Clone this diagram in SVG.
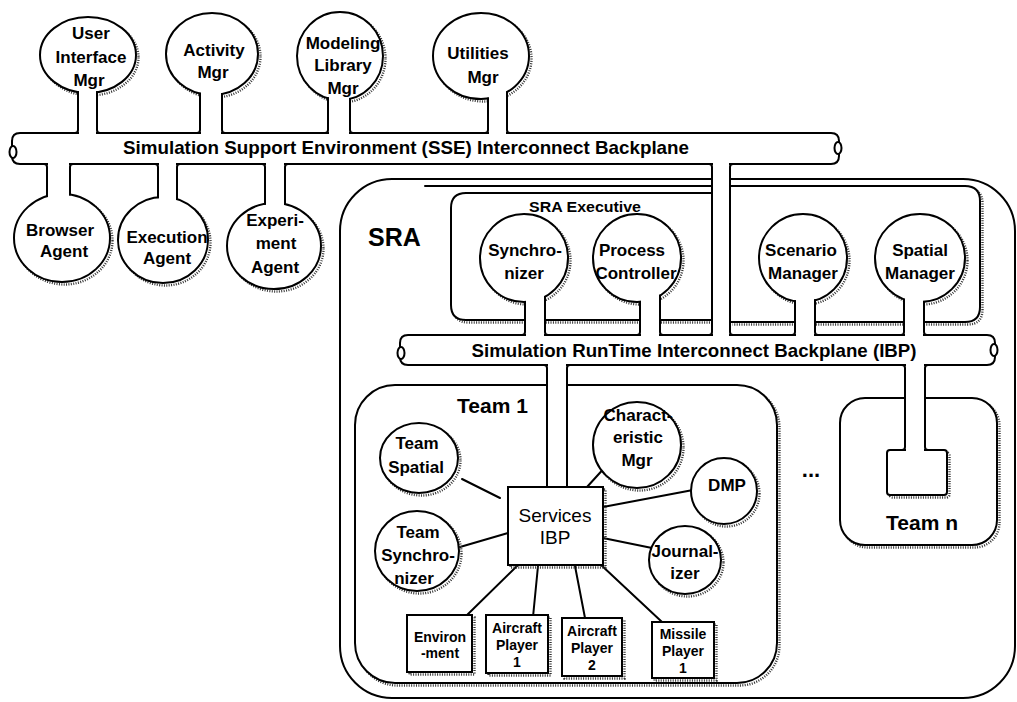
<svg xmlns="http://www.w3.org/2000/svg" width="1017" height="702" viewBox="0 0 1017 702">
<style>
.ln{fill:none;stroke:#000;stroke-width:2;stroke-linecap:round;stroke-linejoin:round}
.wf{fill:#fff}
.nd{fill:#fff;stroke:#000;stroke-width:2}
.w{fill:#fff;stroke:none}
.sh{fill:none;stroke:#333;stroke-width:2.4;stroke-dasharray:1 1.4}
text{font-family:"Liberation Sans",Arial,Helvetica,sans-serif;font-weight:bold;fill:#000}
.c{text-anchor:middle;font-size:17px}
.s{text-anchor:middle;font-size:14px}
.big{font-size:21px}
.reg{font-weight:normal;font-size:19px;text-anchor:middle}
</style>
<rect width="1017" height="702" fill="#fff"/>

<g id="sra">
<rect class="nd" x="340" y="179" width="675" height="519" rx="52"/>
<path class="ln" d="M425,186 H712"/>
<text x="368" y="246" font-size="25">SRA</text>
</g>

<g id="sra-executive">
<path class="sh" transform="translate(2.5,2.5)" d="M709,193 H466 Q451,193 451,208 V305 Q451,320 466,320 H709"/>
<path class="ln wf" d="M712,193 H466 Q451,193 451,208 V305 Q451,320 466,320 H712"/>
<text class="s" x="585" y="212" textLength="112" lengthAdjust="spacingAndGlyphs">SRA Executive</text>
</g>

<g id="sra-managers-box">
<path class="sh" transform="translate(2.5,2.5)" d="M730,186 H965 Q980,186 980,201 V307 Q980,322 965,322 H730"/>
<path class="ln wf" d="M730,186 H965 Q980,186 980,201 V307 Q980,322 965,322 H730"/>
</g>

<g id="team1">
<rect class="sh" x="357.5" y="387.5" width="422" height="298" rx="40"/>
<rect class="nd" x="355" y="385" width="422" height="298" rx="40"/>
<text x="457" y="413" class="big">Team 1</text>
</g>

<g id="teamn">
<rect class="sh" x="842.5" y="400.5" width="157" height="147" rx="25"/>
<rect class="nd" x="840" y="398" width="157" height="147" rx="25"/>
<rect class="sh" x="889.5" y="452.5" width="60" height="45" rx="3"/>
<rect class="nd" x="887" y="450" width="60" height="45" rx="3"/>
<text x="922" y="530" class="big" text-anchor="middle">Team n</text>
</g>

<g id="ellipsis">
<text x="811" y="477" font-size="22" text-anchor="middle">...</text>
</g>

<g id="sse-backplane">
<path class="ln wf" d="M20,133 H831 Q839,133 839,141 V156 Q839,164 831,164 H20 Q12,164 12,156 V141 Q12,133 20,133 Z"/>
<ellipse class="ln wf" cx="13" cy="152" rx="3.5" ry="6"/>
<ellipse class="ln wf" cx="838" cy="148" rx="3.5" ry="6"/>
<text x="406" y="154" font-size="18.5" text-anchor="middle" textLength="566" lengthAdjust="spacingAndGlyphs">Simulation Support Environment (SSE) Interconnect Backplane</text>
</g>

<g id="ibp-backplane">
<path class="ln wf" d="M408,335 H987 Q995,335 995,343 V357 Q995,365 987,365 H408 Q400,365 400,357 V343 Q400,335 408,335 Z"/>
<ellipse class="ln wf" cx="401" cy="353" rx="3.5" ry="6"/>
<ellipse class="ln wf" cx="994" cy="350" rx="3.5" ry="6"/>
<text x="694" y="357" font-size="18.5" text-anchor="middle" textLength="445" lengthAdjust="spacingAndGlyphs">Simulation RunTime Interconnect Backplane (IBP)</text>
</g>

<g id="connectors">
<rect class="w" x="713" y="161" width="16" height="177"/>
<path class="ln" d="M709,164 Q712,164 712,167 V332 Q712,335 709,335 M733,164 Q730,164 730,167 V332 Q730,335 733,335"/>
<rect class="w" x="548" y="362" width="18" height="128"/>
<path class="ln" d="M544,365 Q547,365 547,368 V487 M570,365 Q567,365 567,368 V487"/>
<rect class="w" x="906" y="362" width="18" height="91"/>
<path class="ln" d="M902,365 Q905,365 905,368 V447 Q905,450 902,450 M928,365 Q925,365 925,368 V447 Q925,450 928,450"/>
<path class="ln" d="M462,479 L500,498"/>
<path class="ln" d="M460,547 L508,533"/>
<path class="ln" d="M587,487 L607,465"/>
<path class="ln" d="M603,507 L693,490"/>
<path class="ln" d="M603,538 L652,548"/>
<path class="ln" d="M518,565 L465,617"/>
<path class="ln" d="M538,566 L533,617"/>
<path class="ln" d="M575,566 L585,618"/>
<path class="ln" d="M600,564 L662,622"/>
</g>

<g id="user-interface-mgr">
<ellipse class="sh" cx="90.5" cy="57.5" rx="48" ry="38"/>
<ellipse class="nd" cx="88" cy="55" rx="48" ry="38"/>
<rect class="w" x="79" y="86" width="17" height="50"/>
<path class="ln" d="M78,92 V130 Q78,133 75,133 M97,92 V130 Q97,133 100,133"/>
<text class="c" x="91" y="39">User</text>
<text class="c" x="91" y="63">Interface</text>
<text class="c" x="89" y="86">Mgr</text>
</g>

<g id="activity-mgr">
<ellipse class="sh" cx="214.5" cy="56.5" rx="46" ry="41"/>
<ellipse class="nd" cx="212" cy="54" rx="46" ry="41"/>
<rect class="w" x="201" y="88" width="20" height="48"/>
<path class="ln" d="M200,93.5 V130 Q200,133 197,133 M222,94 V130 Q222,133 225,133"/>
<text class="c" x="214" y="56">Activity</text>
<text class="c" x="213" y="78">Mgr</text>
</g>

<g id="modeling-library-mgr">
<ellipse class="sh" cx="342.5" cy="58.5" rx="43" ry="44"/>
<ellipse class="nd" cx="340" cy="56" rx="43" ry="44"/>
<rect class="w" x="329" y="92" width="20" height="44"/>
<path class="ln" d="M328,98 V130 Q328,133 325,133 M350,98.8 V130 Q350,133 353,133"/>
<text class="c" x="343" y="49">Modeling</text>
<text class="c" x="343" y="71">Library</text>
<text class="c" x="343" y="94">Mgr</text>
</g>

<g id="utilities-mgr">
<ellipse class="sh" cx="483.5" cy="58.5" rx="48" ry="43"/>
<ellipse class="nd" cx="481" cy="56" rx="48" ry="43"/>
<rect class="w" x="489" y="88" width="17" height="48"/>
<path class="ln" d="M488,98.5 V130 Q488,133 485,133 M507,92.2 V130 Q507,133 510,133"/>
<text class="c" x="478" y="59">Utilities</text>
<text class="c" x="483" y="83">Mgr</text>
</g>

<g id="browser-agent">
<ellipse class="sh" cx="64.5" cy="240.5" rx="48" ry="44"/>
<ellipse class="nd" cx="62" cy="238" rx="48" ry="44"/>
<rect class="w" x="48" y="161" width="21" height="40"/>
<path class="ln" d="M44,164 Q47,164 47,167 V196 M73,164 Q70,164 70,167 V194.6"/>
<text class="c" x="60" y="236">Browser</text>
<text class="c" x="64" y="257">Agent</text>
</g>

<g id="execution-agent">
<ellipse class="sh" cx="165.5" cy="242.5" rx="45" ry="43"/>
<ellipse class="nd" cx="163" cy="240" rx="45" ry="43"/>
<rect class="w" x="159" y="161" width="17" height="42"/>
<path class="ln" d="M155,164 Q158,164 158,167 V197.3 M180,164 Q177,164 177,167 V199"/>
<text class="c" x="167" y="243">Execution</text>
<text class="c" x="167" y="264">Agent</text>
</g>

<g id="experiment-agent">
<ellipse class="sh" cx="276.5" cy="248.5" rx="47" ry="43"/>
<ellipse class="nd" cx="274" cy="246" rx="47" ry="43"/>
<rect class="w" x="266" y="161" width="18" height="48"/>
<path class="ln" d="M262,164 Q265,164 265,167 V204 M288,164 Q285,164 285,167 V204"/>
<text class="c" x="275" y="226">Experi-</text>
<text class="c" x="276" y="249">ment</text>
<text class="c" x="275" y="273">Agent</text>
</g>

<g id="synchronizer">
<ellipse class="sh" cx="526.5" cy="260.5" rx="44" ry="44"/>
<ellipse class="nd" cx="524" cy="258" rx="44" ry="44"/>
<rect class="w" x="526" y="292" width="18" height="46"/>
<path class="ln" d="M525,302 V332 Q525,335 522,335 M545,297 V332 Q545,335 548,335"/>
<text class="c" x="525" y="256">Synchro-</text>
<text class="c" x="524" y="279">nizer</text>
</g>

<g id="process-controller">
<ellipse class="sh" cx="639.5" cy="260.5" rx="44" ry="44"/>
<ellipse class="nd" cx="637" cy="258" rx="44" ry="44"/>
<rect class="w" x="641" y="291" width="18" height="47"/>
<path class="ln" d="M640,302 V332 Q640,335 637,335 M660,295.5 V332 Q660,335 663,335"/>
<text class="c" x="632" y="256">Process</text>
<text class="c" x="636" y="279">Controller</text>
</g>

<g id="scenario-manager">
<ellipse class="sh" cx="805.5" cy="260.5" rx="44" ry="44"/>
<ellipse class="nd" cx="803" cy="258" rx="44" ry="44"/>
<rect class="w" x="796" y="296" width="18" height="42"/>
<path class="ln" d="M795,301 V332 Q795,335 792,335 M815,300 V332 Q815,335 818,335"/>
<text class="c" x="801" y="256">Scenario</text>
<text class="c" x="803" y="279">Manager</text>
</g>

<g id="spatial-manager">
<ellipse class="sh" cx="922.5" cy="260.5" rx="45" ry="44"/>
<ellipse class="nd" cx="920" cy="258" rx="45" ry="44"/>
<rect class="w" x="905" y="296" width="18" height="42"/>
<path class="ln" d="M904,300 V332 Q904,335 901,335 M924,302 V332 Q924,335 927,335"/>
<text class="c" x="920" y="256">Spatial</text>
<text class="c" x="920" y="279">Manager</text>
</g>

<g id="services-ibp">
<rect class="sh" x="510.5" y="489.5" width="95" height="78"/>
<rect class="nd" x="508" y="487" width="95" height="78"/>
<text class="reg" x="555" y="522">Services</text>
<text class="reg" x="555" y="544">IBP</text>
</g>

<g id="team-spatial">
<ellipse class="sh" cx="421.5" cy="460.5" rx="39" ry="35"/>
<ellipse class="nd" cx="419" cy="458" rx="39" ry="35"/>
<text class="c" x="417" y="449">Team</text>
<text class="c" x="416" y="473">Spatial</text>
</g>

<g id="team-synchronizer">
<ellipse class="sh" cx="419.5" cy="553.5" rx="42" ry="40"/>
<ellipse class="nd" cx="417" cy="551" rx="42" ry="40"/>
<text class="c" x="418" y="538">Team</text>
<text class="c" x="418" y="561">Synchro-</text>
<text class="c" x="414" y="584">nizer</text>
</g>

<g id="characteristic-mgr">
<ellipse class="sh" cx="639.5" cy="447.5" rx="44" ry="43"/>
<ellipse class="nd" cx="637" cy="445" rx="44" ry="43"/>
<text class="c" x="638" y="421">Charact-</text>
<text class="c" x="638" y="443">eristic</text>
<text class="c" x="637" y="466">Mgr</text>
</g>

<g id="dmp">
<ellipse class="sh" cx="726.5" cy="493.5" rx="33" ry="33"/>
<ellipse class="nd" cx="724" cy="491" rx="33" ry="33"/>
<text class="c" x="727" y="491">DMP</text>
</g>

<g id="journalizer">
<ellipse class="sh" cx="687.5" cy="562.5" rx="36" ry="34"/>
<ellipse class="nd" cx="685" cy="560" rx="36" ry="34"/>
<text class="c" x="685" y="557">Journal-</text>
<text class="c" x="685" y="579">izer</text>
</g>

<g id="environment">
<rect class="sh" x="409.5" y="617.5" width="65" height="57"/>
<rect class="nd" x="407" y="615" width="65" height="57"/>
<text class="s" x="440" y="642">Environ</text>
<text class="s" x="440" y="658">-ment</text>
</g>

<g id="aircraft-player-1">
<rect class="sh" x="488.5" y="617.5" width="62" height="58"/>
<rect class="nd" x="486" y="615" width="62" height="58"/>
<text class="s" x="517" y="633">Aircraft</text>
<text class="s" x="517" y="650">Player</text>
<text class="s" x="517" y="667">1</text>
</g>

<g id="aircraft-player-2">
<rect class="sh" x="564.5" y="620.5" width="60" height="58"/>
<rect class="nd" x="562" y="618" width="60" height="58"/>
<text class="s" x="592" y="636">Aircraft</text>
<text class="s" x="592" y="653">Player</text>
<text class="s" x="592" y="670">2</text>
</g>

<g id="missile-player-1">
<rect class="sh" x="654.5" y="624.5" width="62" height="56"/>
<rect class="nd" x="652" y="622" width="62" height="56"/>
<text class="s" x="683" y="639">Missile</text>
<text class="s" x="683" y="656">Player</text>
<text class="s" x="683" y="673">1</text>
</g>
</svg>
